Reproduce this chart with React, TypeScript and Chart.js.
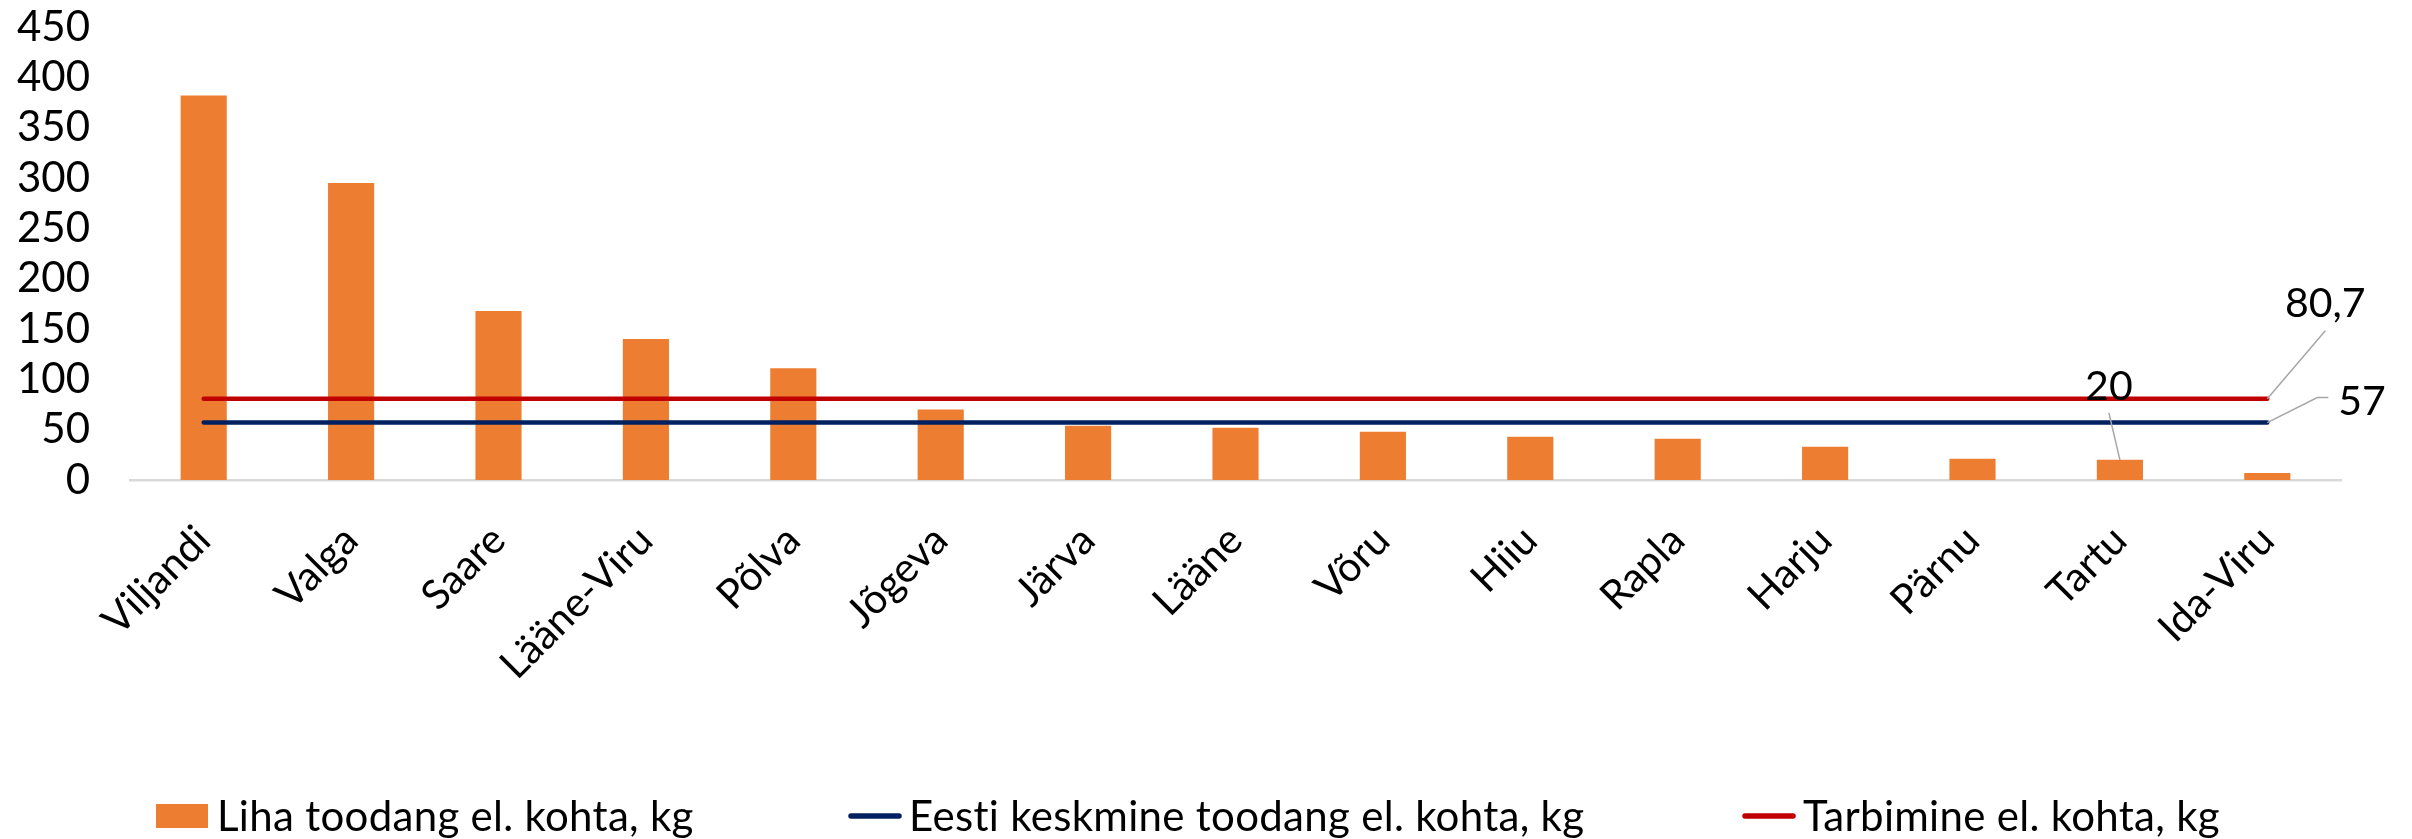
import React, { useEffect, useRef } from 'react';
import { Chart, registerables } from 'chart.js';

Chart.register(...registerables);

const categories = ['Viljandi', 'Valga', 'Saare', 'Lääne-Viru', 'Põlva', 'Jõgeva', 'Järva', 'Lääne', 'Võru', 'Hiiu', 'Rapla', 'Harju', 'Pärnu', 'Tartu', 'Ida-Viru'];
const meatPerCapita = [382, 295, 168, 140, 111, 70, 54, 52, 48, 43, 41, 33, 21, 20, 7];
const estoniaAverage = [57, 57, 57, 57, 57, 57, 57, 57, 57, 57, 57, 57, 57, 57, 57];
const consumption = [80.7, 80.7, 80.7, 80.7, 80.7, 80.7, 80.7, 80.7, 80.7, 80.7, 80.7, 80.7, 80.7, 80.7, 80.7];
const yTickValues = [0, 50, 100, 150, 200, 250, 300, 350, 400, 450];
const seriesLabels = ['Liha toodang el. kohta, kg', 'Eest\u200Ci keskmine toodang el. kohta, kg', 'Tarbimine el. kohta, kg'];
// which point of which series carries a value label
const labelledPoints = [
  { dataset: 2, index: 14, kind: 'lineHigh' },
  { dataset: 1, index: 14, kind: 'lineLow' },
  { dataset: 0, index: 13, kind: 'bar' },
];

const FONT = 'Lato, "Open Sans", sans-serif';
const FS = 41;
const ORANGE = '#ED7D31';
const NAVY = '#002060';
const RED = '#C00000';
const LEADER = '#A6A6A6';

const fmt = (v: number) => String(v).replace('.', ',');

const labelPlugin = {
  id: 'valueLabels',
  afterDatasetsDraw(chart: any) {
    const ctx = chart.ctx;
    ctx.save();
    ctx.font = `${FS}px ${FONT}`;
    ctx.fillStyle = '#000';
    ctx.strokeStyle = LEADER;
    ctx.lineWidth = 1.5;
    for (const lp of labelledPoints) {
      const meta = chart.getDatasetMeta(lp.dataset);
      const el = meta.data[lp.index];
      const value = chart.data.datasets[lp.dataset].data[lp.index];
      const x = el.x;
      const y = el.y;
      const text = fmt(value);
      if (lp.kind === 'lineHigh') {
        ctx.beginPath();
        ctx.moveTo(x, y);
        ctx.lineTo(x + 58, y - 68);
        ctx.stroke();
        ctx.textAlign = 'center';
        ctx.textBaseline = 'middle';
        ctx.fillText(text, x + 58, y - 95);
      } else if (lp.kind === 'lineLow') {
        ctx.beginPath();
        ctx.moveTo(x, y);
        ctx.lineTo(x + 50, y - 25);
        ctx.lineTo(x + 61, y - 25);
        ctx.stroke();
        ctx.textAlign = 'left';
        ctx.textBaseline = 'middle';
        ctx.fillText(text, x + 71, y - 21);
      } else {
        ctx.beginPath();
        ctx.moveTo(x, y);
        ctx.lineTo(x - 11, y - 47);
        ctx.stroke();
        ctx.textAlign = 'center';
        ctx.textBaseline = 'middle';
        ctx.fillText(text, x - 11, y - 73);
      }
    }
    ctx.restore();
  },
};

const legendStarts = [156, 848, 1742];

const legendPlugin = {
  id: 'customLegend',
  afterDraw(chart: any) {
    const ctx = chart.ctx;
    ctx.save();
    ctx.font = `42px ${FONT}`;
    try { (ctx as any).letterSpacing = '0.3px'; } catch (e) { /* ignore */ }
    const markerW = 54;
    const textGap = 7;
    const cy = 816;
    chart.data.datasets.forEach((d: any, i: number) => {
      const x = legendStarts[i];
      if (d.type === 'line') {
        ctx.strokeStyle = d.borderColor;
        ctx.lineWidth = 5.5;
        ctx.lineCap = 'round';
        ctx.beginPath();
        ctx.moveTo(x + 3, cy);
        ctx.lineTo(x + markerW - 3, cy);
        ctx.stroke();
      } else {
        ctx.fillStyle = d.backgroundColor;
        ctx.fillRect(x, cy - 12, markerW - 2, 24);
      }
      ctx.fillStyle = '#000';
      ctx.textAlign = 'left';
      ctx.textBaseline = 'middle';
      ctx.fillText(d.label, x + markerW + textGap, cy + 1);
    });
    ctx.restore();
  },
};

export default function App() {
  const canvasRef = useRef<HTMLCanvasElement | null>(null);

  useEffect(() => {
    document.body.style.margin = '0';
    const canvas = canvasRef.current;
    if (!canvas) return;
    const chart = new Chart(canvas, {
      type: 'bar',
      data: {
        labels: categories,
        datasets: [
          {
            type: 'bar',
            label: seriesLabels[0],
            data: meatPerCapita,
            backgroundColor: ORANGE,
            borderWidth: 0,
            barPercentage: 0.313,
            categoryPercentage: 1,
            order: 3,
          } as any,
          {
            type: 'line',
            label: seriesLabels[1],
            data: estoniaAverage,
            borderColor: NAVY,
            backgroundColor: NAVY,
            borderWidth: 4.5,
            borderCapStyle: 'round',
            pointRadius: 0,
            fill: false,
            order: 2,
          } as any,
          {
            type: 'line',
            label: seriesLabels[2],
            data: consumption,
            borderColor: RED,
            backgroundColor: RED,
            borderWidth: 4.5,
            borderCapStyle: 'round',
            pointRadius: 0,
            fill: false,
            order: 1,
          } as any,
        ],
      },
      options: {
        responsive: false,
        animation: false,
        devicePixelRatio: 1,
        layout: { padding: { left: 0, right: 71, top: 27, bottom: 99 } },
        plugins: {
          legend: { display: false },
          tooltip: { enabled: false },
          title: { display: false },
        },
        scales: {
          x: {
            offset: true,
            grid: { display: false, drawTicks: false },
            border: { display: true, color: '#D9D9D9', width: 2.5 },
            ticks: {
              autoSkip: false,
              maxRotation: 45,
              minRotation: 45,
              padding: 36,
              color: '#000',
              font: { family: FONT, size: FS },
            },
            afterFit: (scale: any) => {
              scale.height = 260;
            },
          },
          y: {
            min: 0,
            max: 450,
            grid: { display: false, drawTicks: false },
            border: { display: false },
            afterBuildTicks: (scale: any) => {
              scale.ticks = yTickValues.map((v) => ({ value: v }));
            },
            ticks: {
              autoSkip: false,
              padding: 40,
              color: '#000',
              font: { family: FONT, size: 42 },
            },
            afterFit: (scale: any) => {
              scale.width = 130;
              scale.paddingTop = 0;
              scale.paddingBottom = 0;
            },
          },
        },
      },
      plugins: [labelPlugin, legendPlugin],
    });
    return () => chart.destroy();
  }, []);

  return (
    <div style={{ position: 'absolute', left: 0, top: 0, width: 2412, height: 839, background: '#fff' }}>
      <canvas ref={canvasRef} width={2412} height={839} style={{ display: 'block' }} />
    </div>
  );
}
